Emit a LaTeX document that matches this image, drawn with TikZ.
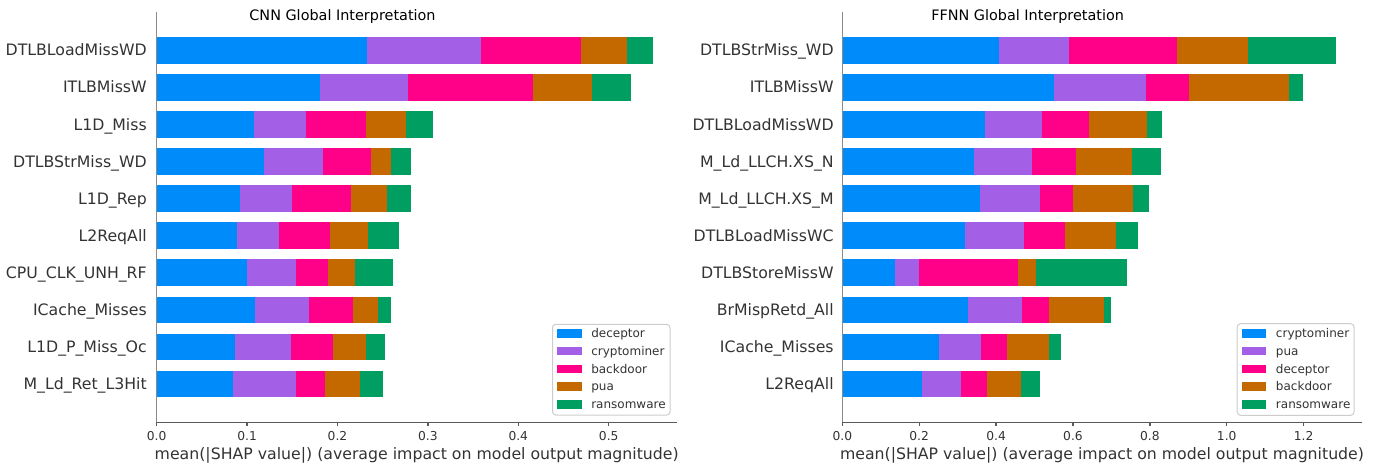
\documentclass[tikz,border=0pt]{standalone}
\usepackage{fontspec}
\setmainfont{DejaVu Sans}
\usepackage{xcolor}
\usepackage{tikz}
\definecolor{shapblue}{RGB}{0, 139, 250}
\definecolor{shappurple}{RGB}{163, 95, 229}
\definecolor{shappink}{RGB}{255, 0, 136}
\definecolor{shaporange}{RGB}{196, 105, 0}
\definecolor{shapgreen}{RGB}{0, 158, 96}
\definecolor{labelgray}{RGB}{51, 51, 51}
\definecolor{axisgray}{RGB}{90, 90, 90}

\begin{document}
\begin{tikzpicture}[
        x=0.75pt, y=-0.75pt,
        ylab/.style={anchor=base east, inner sep=0pt, text=labelgray, font=\fontsize{11.8}{13}\selectfont},
        tlab/.style={anchor=base, inner sep=0pt, text=labelgray, font=\fontsize{9.2}{11}\selectfont},
        xlab/.style={anchor=base, inner sep=0pt, text=labelgray, font=\fontsize{11.8}{13}\selectfont},
        title/.style={anchor=base, inner sep=0pt, text=black, font=\fontsize{10.8}{12}\selectfont},
        leg/.style={anchor=base west, inner sep=0pt, text=labelgray, font=\fontsize{9}{10}\selectfont},
        legbox/.style={draw=black!20, fill=white, line width=0.75pt, rounded corners=2.5pt},
        spine/.style={draw=axisgray, line width=1pt},
        yspine/.style={draw=axisgray!70, line width=0.6pt}
    ]
        \useasboundingbox (0,0) rectangle (1385,470);

        % CNN panel
        \node[title] (cnntitle) at (342.5,20.5) {CNN Global Interpretation};
        \foreach \lab/\a/\b/\c/\d/\e [count=\i] in {
            DTLBLoadMissWD/0.2327/0.3590/0.4698/0.5200/0.5488,
            ITLBMissW/0.1805/0.2780/0.4166/0.4820/0.5244,
            L1D\_Miss/0.1073/0.1649/0.2317/0.2761/0.3059,
            DTLBStrMiss\_WD/0.1185/0.1839/0.2371/0.2595/0.2815,
            L1D\_Rep/0.0917/0.1498/0.2151/0.2546/0.2815,
            L2ReqAll/0.0888/0.1351/0.1917/0.2337/0.2683,
            CPU\_CLK\_UNH\_RF/0.0995/0.1541/0.1893/0.2195/0.2615,
            ICache\_Misses/0.1083/0.1683/0.2171/0.2449/0.2595,
            L1D\_P\_Miss\_Oc/0.0863/0.1483/0.1951/0.2317/0.2527,
            M\_Ld\_Ret\_L3Hit/0.0839/0.1541/0.1863/0.2249/0.2502} {
            \pgfmathsetmacro\yc{50.3+(\i-1)*37.08}
            \node[ylab] (cnnrow\i) at (147,{\yc+5.6}) {\lab};
            \fill[shapblue] (156.7,{\yc-13.35}) rectangle ({156.7+\a*904},{\yc+13.35});
            \fill[shappurple] ({156.7+\a*904},{\yc-13.35}) rectangle ({156.7+\b*904},{\yc+13.35});
            \fill[shappink] ({156.7+\b*904},{\yc-13.35}) rectangle ({156.7+\c*904},{\yc+13.35});
            \fill[shaporange] ({156.7+\c*904},{\yc-13.35}) rectangle ({156.7+\d*904},{\yc+13.35});
            \fill[shapgreen] ({156.7+\d*904},{\yc-13.35}) rectangle ({156.7+\e*904},{\yc+13.35});
        }
        \draw[yspine] (156.7,11.7) -- (156.7,422.3);
        \draw[spine] (156.7,422.3) -- (676.7,422.3);
        \foreach \v [count=\k] in {0.0,0.1,0.2,0.3,0.4,0.5} {
            \draw[spine] ({156.7+\v*904},422.3) -- ({156.7+\v*904},426);
            \node[tlab] (cnntick\k) at ({156.7+\v*904},440) {\v};
        }
        \node[xlab] (cnnxlabel) at (416.7,459) {mean(|SHAP value|) (average impact on model output magnitude)};
        \draw[legbox] (552.5,324.3) rectangle (670,415);
        \foreach \nm/\col [count=\k] in {deceptor/shapblue, cryptominer/shappurple, backdoor/shappink, pua/shaporange, ransomware/shapgreen} {
            \pgfmathsetmacro\ly{333.5+(\k-1)*17.7}
            \fill[\col] (557.3,{\ly-4.2}) rectangle (582,{\ly+4.2});
            \node[leg] (cnnleg\k) at (591,{\ly+4.3}) {\nm};
        }

        % FFNN panel
        \node[title] (ffnntitle) at (1027.6,20.5) {FFNN Global Interpretation};
        \foreach \lab/\a/\b/\c/\d/\e [count=\i] in {
            DTLBStrMiss\_WD/0.4065/0.5885/0.8695/1.0561/1.2853,
            ITLBMissW/0.5517/0.7912/0.9029/1.1632/1.1989,
            DTLBLoadMissWD/0.3708/0.5183/0.6426/0.7935/0.8327,
            M\_Ld\_LLCH.XS\_N/0.3420/0.4929/0.6092/0.7543/0.8281,
            M\_Ld\_LLCH.XS\_M/0.3570/0.5137/0.5989/0.7566/0.7970,
            DTLBLoadMissWC/0.3179/0.4722/0.5804/0.7129/0.7682,
            DTLBStoreMissW/0.1370/0.1992/0.4561/0.5033/0.7417,
            BrMispRetd\_All/0.3259/0.4687/0.5367/0.6795/0.6979,
            ICache\_Misses/0.2511/0.3605/0.4296/0.5378/0.5701,
            L2ReqAll/0.2061/0.3075/0.3754/0.4641/0.5136} {
            \pgfmathsetmacro\yc{50.3+(\i-1)*37.08}
            \node[ylab] (ffnnrow\i) at (833.9,{\yc+5.6}) {\lab};
            \fill[shapblue] (842.3,{\yc-13.35}) rectangle ({842.3+\a*384.4},{\yc+13.35});
            \fill[shappurple] ({842.3+\a*384.4},{\yc-13.35}) rectangle ({842.3+\b*384.4},{\yc+13.35});
            \fill[shappink] ({842.3+\b*384.4},{\yc-13.35}) rectangle ({842.3+\c*384.4},{\yc+13.35});
            \fill[shaporange] ({842.3+\c*384.4},{\yc-13.35}) rectangle ({842.3+\d*384.4},{\yc+13.35});
            \fill[shapgreen] ({842.3+\d*384.4},{\yc-13.35}) rectangle ({842.3+\e*384.4},{\yc+13.35});
        }
        \draw[yspine] (842.3,11.7) -- (842.3,422.3);
        \draw[spine] (842.3,422.3) -- (1361.7,422.3);
        \foreach \v [count=\k] in {0.0,0.2,0.4,0.6,0.8,1.0,1.2} {
            \draw[spine] ({842.3+\v*384.4},422.3) -- ({842.3+\v*384.4},426);
            \node[tlab] (ffnntick\k) at ({842.3+\v*384.4},440) {\v};
        }
        \node[xlab] (ffnnxlabel) at (1102,459) {mean(|SHAP value|) (average impact on model output magnitude)};
        \draw[legbox] (1237.2,323.7) rectangle (1354,415.3);
        \foreach \nm/\col [count=\k] in {cryptominer/shapblue, pua/shappurple, deceptor/shappink, backdoor/shaporange, ransomware/shapgreen} {
            \pgfmathsetmacro\ly{333.5+(\k-1)*17.7}
            \fill[\col] (1241.5,{\ly-4.2}) rectangle (1266.3,{\ly+4.2});
            \node[leg] (ffnnleg\k) at (1275.7,{\ly+4.3}) {\nm};
        }
    \end{tikzpicture}
\end{document}
